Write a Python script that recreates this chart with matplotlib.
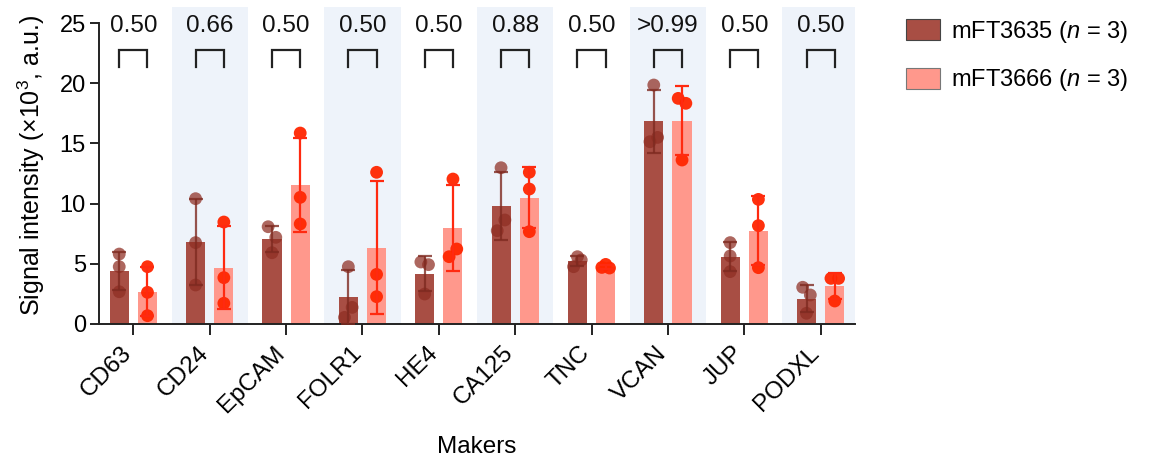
import numpy as np
import matplotlib
matplotlib.use("Agg")
import matplotlib.pyplot as plt
from matplotlib.patches import Patch
import matplotlib.transforms as mtransforms

plt.rcParams['font.family'] = ['Liberation Sans', 'DejaVu Sans']
plt.rcParams['mathtext.fontset'] = 'custom'
plt.rcParams['mathtext.rm'] = 'Liberation Sans'
plt.rcParams['mathtext.it'] = 'Liberation Sans:italic'

markers = ["CD63", "CD24", "EpCAM", "FOLR1", "HE4", "CA125", "TNC", "VCAN", "JUP", "PODXL"]
group_names = ["mFT3635 ($n$ = 3)", "mFT3666 ($n$ = 3)"]

mFT3635 = [
    [5.81, 4.76, 2.68],
    [10.41, 6.76, 3.24],
    [8.08, 7.20, 5.92],
    [4.76, 1.38, 0.55],
    [5.15, 4.93, 2.49],
    [12.98, 8.64, 7.75],
    [5.59, 5.32, 4.76],
    [19.85, 15.50, 15.14],
    [6.76, 5.65, 4.35],
    [3.05, 2.41, 0.89],
]
mFT3666 = [
    [4.76, 2.63, 0.69],
    [8.47, 3.85, 1.72],
    [15.86, 10.52, 8.31],
    [12.60, 4.12, 2.27],
    [12.04, 6.23, 5.59],
    [12.60, 11.21, 7.67],
    [4.95, 4.70, 4.65],
    [18.74, 18.33, 13.62],
    [10.35, 8.17, 4.68],
    [3.79, 3.79, 1.91],
]
p_values = ["0.50", "0.66", "0.50", "0.50", "0.50", "0.88", "0.50", ">0.99", "0.50", "0.50"]

# small horizontal scatter of the replicate dots (style only)
jitter_dark = [
    [0, 0, 0], [0, 0, 0], [-0.05, 0.05, 0], [0, 0.05, -0.05], [-0.05, 0.05, 0],
    [0, 0.05, -0.05], [0, 0.05, -0.05], [0, 0.05, -0.05], [0, 0, 0], [-0.05, 0.05, 0],
]
jitter_light = [
    [0, 0, 0], [0, 0, 0], [0, 0, 0], [0, 0, 0], [0, 0.05, -0.05],
    [0, 0, 0], [0, -0.05, 0.05], [-0.05, 0.05, 0], [0, 0, 0], [-0.05, 0.05, 0],
]

W, H = 1149, 462
fig = plt.figure(figsize=(W / 100, H / 100), dpi=100)
ax = fig.add_axes([99 / W, 1 - 324 / H, (855 - 99) / W, (324 - 7) / H])

n = len(markers)
x = np.arange(n)
off = 0.185
bw = 0.25

dark_bar = '#A84E44'
light_bar = '#FF988C'
dark_pt = '#8E2D22'
light_pt = '#FF2600'
dark_err = '#7E2A20'
light_err = '#FF2A10'

for i in range(n):
    if i % 2 == 1:
        ax.axvspan(i - 0.5, i + 0.5, ymin=0, ymax=1, color='#EEF3FA', lw=0, zorder=0)

d = np.array(mFT3635)
l = np.array(mFT3666)
jd = np.array(jitter_dark)
jl = np.array(jitter_light)
dm, ds = d.mean(axis=1), d.std(axis=1, ddof=1)
lm, ls = l.mean(axis=1), l.std(axis=1, ddof=1)

ax.bar(x - off, dm, width=bw, color=dark_bar, zorder=2)
ax.bar(x + off, lm, width=bw, color=light_bar, zorder=2)

for i in range(n):
    ax.scatter(x[i] - off + jd[i], d[i], s=85, color=dark_pt, alpha=0.72,
               edgecolors='none', zorder=3)
    ax.scatter(x[i] + off + jl[i], l[i], s=85, color=light_pt, alpha=0.95,
               edgecolors='none', zorder=3)

ax.errorbar(x - off, dm, yerr=ds, fmt='none', ecolor=dark_err, elinewidth=1.6,
            capsize=5, capthick=1.6, alpha=0.8, zorder=4)
ax.errorbar(x + off, lm, yerr=ls, fmt='none', ecolor=light_err, elinewidth=1.6,
            capsize=5, capthick=1.6, zorder=4)

# brackets and p values
for i in range(n):
    x0, x1 = x[i] - off, x[i] + off
    ax.plot([x0, x0, x1, x1], [21.37, 22.76, 22.76, 21.37], color='#222222', lw=1.6,
            solid_joinstyle='miter', zorder=5, clip_on=False)
    ax.text(x[i], 24.75, p_values[i], ha='center', va='center', fontsize=17.5,
            color='#111111', zorder=5)

ax.set_xlim(-0.45, n - 1 + 0.45)
ax.set_ylim(0, 26.33)
ax.set_yticks([0, 5, 10, 15, 20, 25])
ax.spines['left'].set_bounds(0, 25)
for s in ['top', 'right']:
    ax.spines[s].set_visible(False)
for s in ['left', 'bottom']:
    ax.spines[s].set_linewidth(1.4)
    ax.spines[s].set_color('#222222')

ax.tick_params(axis='y', length=6.5, width=1.4, labelsize=17, color='#222222', pad=3)
ax.tick_params(axis='x', length=8, width=1.4, labelsize=17.5, color='#222222', pad=5)
ax.set_xticks(x)
ax.set_xticklabels(markers, rotation=45, ha='right', va='top')
shift = mtransforms.ScaledTranslation(3 / 100, 0, fig.dpi_scale_trans)
for lab in ax.get_xticklabels():
    lab.set_transform(lab.get_transform() + shift)

ax.set_ylabel("Signal intensity (×10$^3$, a.u.)", fontsize=18, labelpad=9)
ax.set_xlabel("Makers", fontsize=17.5, labelpad=14)

handles = [Patch(facecolor=dark_bar, edgecolor='#444444', lw=0.8),
           Patch(facecolor=light_bar, edgecolor='#777777', lw=0.8)]
fig.legend(handles, group_names, loc='upper left', bbox_to_anchor=(906 / W, 1 - 19 / H),
           frameon=False, fontsize=17, handlelength=1.45, handleheight=1.0,
           labelspacing=0.95, handletextpad=0.45, borderpad=0, borderaxespad=0)

fig.savefig("out.png", dpi=100)
